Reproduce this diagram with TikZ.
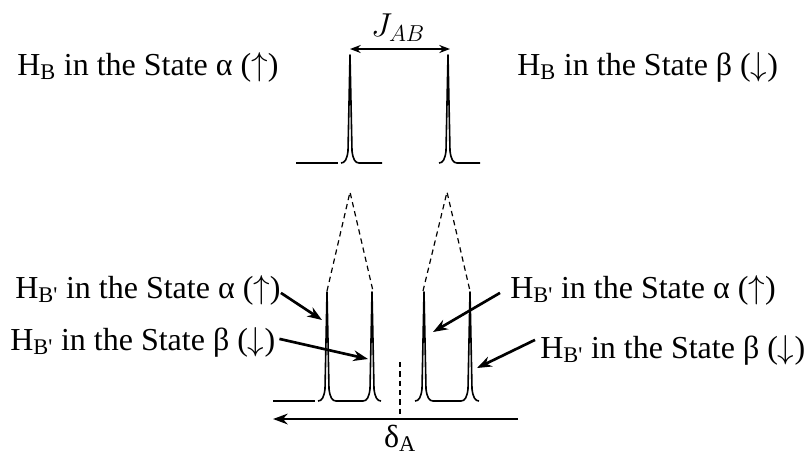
\documentclass[tikz,border=0pt]{standalone}
\usepackage{fontspec}
\setmainfont{Liberation Serif}
\usetikzlibrary{arrows.meta,calc}
\newcommand\spk[3]{.. controls (#1-5,#2) and (#1-3,#2-4) .. (#1-2,#2-12) -- (#1,#3) -- (#1+2,#2-12) .. controls (#1+3,#2-4) and (#1+5,#2) .. (#1+9,#2)}
\newcommand\Hs[1]{H\textsubscript{#1}}
\newcommand\up{($\uparrow$)}
\newcommand\dn{($\downarrow$)}
\begin{document}
\begin{tikzpicture}[x=0.75pt,y=-0.75pt,
  spec/.style={line width=1.2pt, line join=round},
  guide/.style={line width=0.9pt, dash pattern=on 4pt off 3pt},
  pointer/.style={line width=2pt, -{Stealth[length=11pt,width=8pt]}},
  lbl/.style={font=\fontsize{24}{28}\selectfont, inner sep=0pt, anchor=base west}]
\useasboundingbox (0,0) rectangle (810,455);

% labels
\node[lbl] (tl) at (17,75) {\Hs{B} in the State α \up};
\node[lbl] (tr) at (517,75) {\Hs{B} in the State β \dn};
\node[lbl] (bl1) at (15,298) {\Hs{B\textquotesingle} in the State α \up};
\node[lbl] (bl2) at (10,350) {\Hs{B\textquotesingle} in the State β \dn};
\node[lbl] (br1) at (510,298) {\Hs{B\textquotesingle} in the State α \up};
\node[lbl] (br2) at (540,358) {\Hs{B\textquotesingle} in the State β \dn};
\node[font=\fontsize{27}{30}\selectfont, inner sep=0pt] (jab) at (398,28) {$J_{AB}$};
\node[font=\fontsize{24}{28}\selectfont, inner sep=0pt, anchor=base] (dA) at (400,447) {δ\textsubscript{A}};

% top spectrum
\draw[spec] (296,163) -- (338,163);
\draw[spec] (341,163) \spk{350}{163}{55} -- (382,163);
\draw[spec] (439,163) \spk{448}{163}{55} -- (480,163);
\coordinate (jl) at (350,49);
\coordinate (jr) at (450,49);
\draw[line width=1.5pt, {Stealth[length=8pt,width=6pt]}-{Stealth[length=8pt,width=6pt]}] (jl) -- (jr);

% dashed guides
\coordinate (ap1) at (350,192);
\coordinate (ap2) at (447,192);
\coordinate (p1) at (327,291);
\coordinate (p2) at (373,291);
\coordinate (p3) at (423,291);
\coordinate (p4) at (470,291);
\draw[guide] (p1) -- (ap1) -- (p2);
\draw[guide] (p3) -- (ap2) -- (p4);

% bottom spectrum
\draw[spec] (273,401) -- (315,401);
\draw[spec] (318,401) \spk{327}{401}{292} -- (363,401) \spk{372}{401}{292};
\draw[spec] (415,401) \spk{424}{401}{292} -- (461,401) \spk{470}{401}{292};

% centre and axis
\coordinate (ct) at (400,362);
\coordinate (cb) at (400,419);
\draw[guide] (ct) -- (cb);
\coordinate (axr) at (518,419);
\coordinate (axl) at (273,419);
\draw[pointer] (axr) -- (axl);

% pointers
\coordinate (a1) at (322,320);
\coordinate (a2) at (368,359);
\coordinate (a3) at (433,332);
\coordinate (a4) at (477,368);
\draw[pointer] ($(bl1.east)+(0,3)$) -- (a1);
\draw[pointer] ($(bl2.east)+(4,-3)$) -- (a2);
\draw[pointer] ($(br1.west)+(-10,3)$) -- (a3);
\draw[pointer] ($(br2.west)+(-5,-10)$) -- (a4);
\end{tikzpicture}
\end{document}
